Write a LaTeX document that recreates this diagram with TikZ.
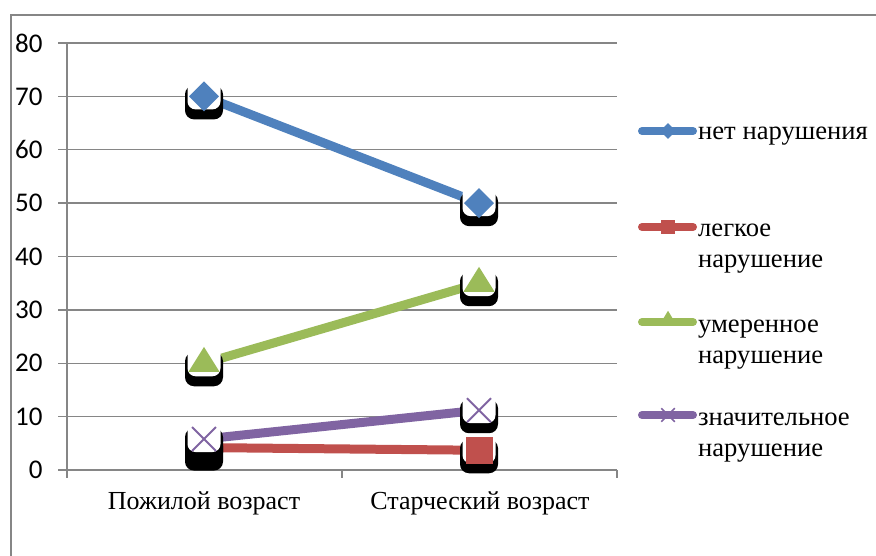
\documentclass[tikz,border=0pt]{standalone}
\usepackage{fontspec}
\setmainfont{Liberation Serif}
\newfontfamily\axisfont{Carlito}
\usetikzlibrary{shapes.geometric,shapes.misc}

\definecolor{gridgray}{HTML}{868686}
\definecolor{blueS}{HTML}{4F81BD}
\definecolor{redS}{HTML}{C0504D}
\definecolor{greenS}{HTML}{9BBB59}
\definecolor{purpleS}{HTML}{8064A2}

\tikzset{
  grid line/.style={draw=gridgray, line width=1.5pt},
  series/.style={line width=9pt},
  shade box/.style={fill=black, rounded corners=9pt, minimum width=38pt,
    minimum height=34pt, inner sep=0pt, yshift=-6pt},
  halo box/.style={fill=white, rounded corners=8pt, minimum width=33pt,
    minimum height=30pt, inner sep=0pt, yshift=2pt},
  mark diamond/.style={diamond, fill=blueS, minimum width=30pt,
    minimum height=30pt, inner sep=0pt},
  mark square/.style={rectangle, fill=redS, minimum size=27pt, inner sep=0pt},
  mark triangle/.style={isosceles triangle, shape border rotate=90,
    isosceles triangle apex angle=64, fill=greenS, minimum height=25pt,
    inner sep=0pt},
  mark cross/.style={cross out, draw=purpleS, line width=2pt,
    minimum size=22pt, inner sep=0pt},
  tick label/.style={anchor=east, font=\axisfont\fontsize{27}{30}\selectfont},
  cat label/.style={font=\fontsize{26}{30}\selectfont},
  key label/.style={anchor=base west, align=left, inner sep=0pt,
    font=\fontsize{26.6}{31}\selectfont}
}

\newcommand{\pointmark}[3]{%
  \node[shade box] at (#1) {};
  \node[halo box] at (#1) {};
  \node[#2] (#3) at (#1) {};
}

\begin{document}
\begin{tikzpicture}[x=1pt, y=-1pt]
\useasboundingbox (0,0) rectangle (876,556);

% outer frame
\draw[gridgray, line width=1.5pt] (11,560) -- (11,15) -- (880,15);

% grid and axes
\foreach \v in {0,10,...,80} {
  \draw[grid line] (58,470-\v*5.3375) -- (617,470-\v*5.3375);
  \node[tick label] at (46,470-\v*5.3375) {\v};
}
\draw[grid line] (67,43) -- (67,478);
\foreach \x in {67,342,617}
  \draw[grid line] (\x,470) -- (\x,478);

\node[cat label] (cat1) at (204,503) {Пожилой возраст};
\node[cat label] (cat2) at (480,503) {Старческий возраст};

\begin{scope}[shift={(0,470)}, y=5.3375pt]
\coordinate (blue1) at (204,70);
\coordinate (blue2) at (479,50);
\coordinate (red1) at (204,4.2);
\coordinate (red2) at (479,3.7);
\coordinate (green1) at (204,20);
\coordinate (green2) at (479,35);
\coordinate (purple1) at (204,5.8);
\coordinate (purple2) at (479,11.2);
\end{scope}

% series
\draw[series, blueS] (blue1) -- (blue2);
\pointmark{blue1}{mark diamond}{m-blue1}
\pointmark{blue2}{mark diamond}{m-blue2}

\draw[series, redS] (red1) -- (red2);
\pointmark{red1}{mark square}{m-red1}
\pointmark{red2}{mark square}{m-red2}

\draw[series, greenS] (green1) -- (green2);
\pointmark{green1}{mark triangle}{m-green1}
\pointmark{green2}{mark triangle}{m-green2}

\draw[series, purpleS] (purple1) -- (purple2);
\pointmark{purple1}{mark cross}{m-purple1}
\pointmark{purple2}{mark cross}{m-purple2}

% legend
\draw[series, blueS, line width=8pt, line cap=round] (642,131) -- (693,131);
\node[diamond, fill=blueS, minimum size=16pt, inner sep=0pt] (k-blue) at (668,131) {};
\node[key label] (t-blue) at (698,140) {нет нарушения};

\draw[series, redS, line width=8pt, line cap=round] (642,227) -- (693,227);
\node[rectangle, fill=redS, minimum size=14pt, inner sep=0pt] (k-red) at (668,227) {};
\node[key label] (t-red) at (698,268) {легкое\\нарушение};

\draw[series, greenS, line width=8pt, line cap=round] (642,322) -- (693,322);
\node[isosceles triangle, shape border rotate=90, isosceles triangle apex angle=62,
  fill=greenS, minimum height=14pt, inner sep=0pt] (k-green) at (668,320) {};
\node[key label] (t-green) at (698,363) {умеренное\\нарушение};

\draw[series, purpleS, line width=8pt, line cap=round] (642,415) -- (693,415);
\node[cross out, draw=purpleS, line width=1.5pt, minimum size=12pt, inner sep=0pt]
  (k-purple) at (668,415) {};
\node[key label] (t-purple) at (698,456) {значительное\\нарушение};
\end{tikzpicture}
\end{document}
